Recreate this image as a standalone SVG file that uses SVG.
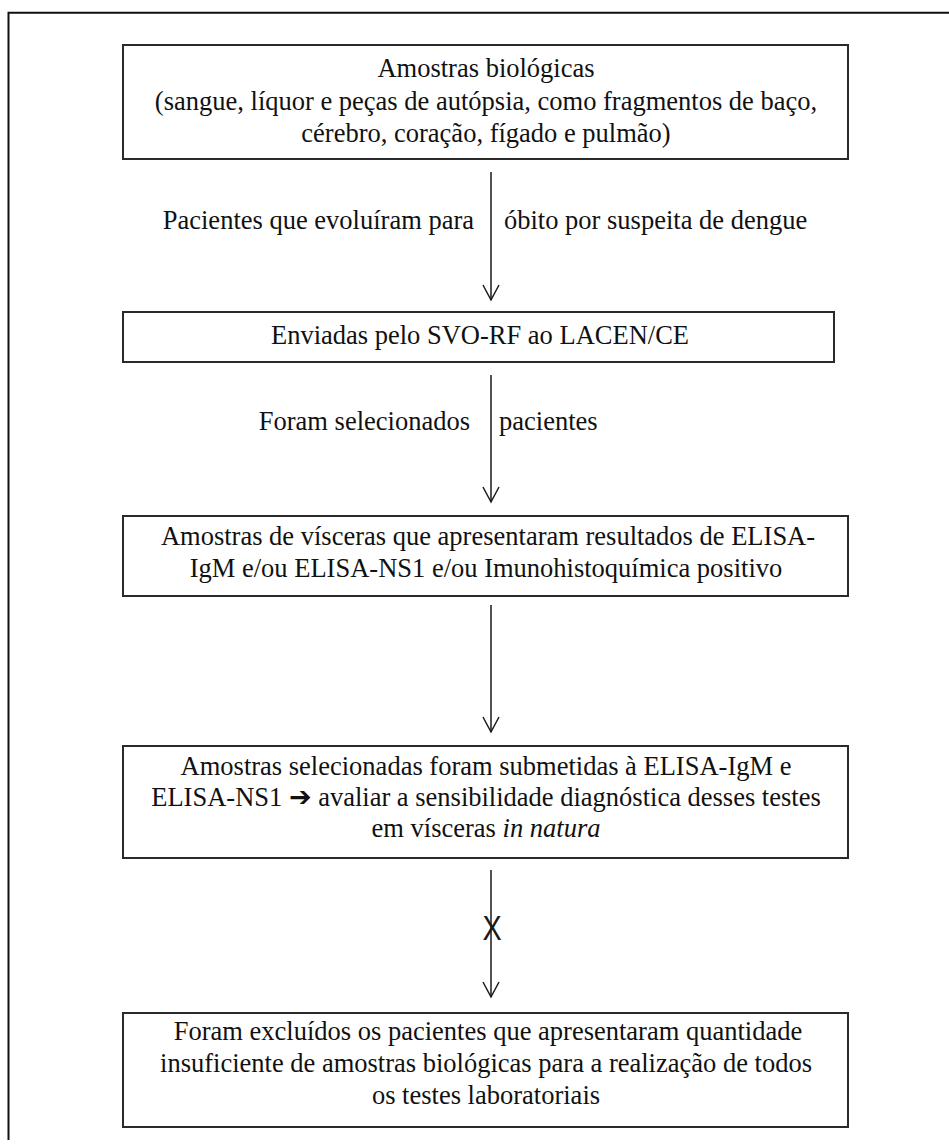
<svg xmlns="http://www.w3.org/2000/svg" width="949" height="1148" viewBox="0 0 949 1148">
<style>
.box{fill:#fff;stroke:#2a2a2a;stroke-width:2}
.t{font-family:"Liberation Serif","Times New Roman",serif;font-size:26.5px;fill:#111;text-anchor:middle}
.l{font-family:"Liberation Serif","Times New Roman",serif;font-size:26.5px;fill:#111}
.ln{stroke:#1a1a1a;stroke-width:1.5;fill:none}
</style>
<defs>
<marker id="arr" viewBox="0 0 20 20" refX="18" refY="10" markerWidth="20" markerHeight="20" markerUnits="userSpaceOnUse" orient="auto">
<path d="M3 2 L18 10 L3 18" fill="none" stroke="#1a1a1a" stroke-width="1.5"/>
</marker>
</defs>
<rect width="949" height="1148" fill="#fff"/>
<path d="M8.5 1140 V12.7 H949" fill="none" stroke="#111" stroke-width="2"/>

<g id="node1">
<rect class="box" x="123" y="45" width="725" height="114"/>
<text class="t" x="486" y="77">Amostras biológicas</text>
<text class="t" x="486" y="110">(sangue, líquor e peças de autópsia, como fragmentos de baço,</text>
<text class="t" x="486" y="142">cérebro, coração, fígado e pulmão)</text>
</g>

<g id="node2">
<rect class="box" x="123" y="312" width="711" height="50"/>
<text class="t" x="480" y="344">Enviadas pelo SVO-RF ao LACEN/CE</text>
</g>

<g id="node3">
<rect class="box" x="123" y="516" width="725" height="80"/>
<text class="t" x="488" y="545">Amostras de vísceras que apresentaram resultados de ELISA-</text>
<text class="t" x="486" y="577">IgM e/ou ELISA-NS1 e/ou Imunohistoquímica positivo</text>
</g>

<g id="node4">
<rect class="box" x="123" y="746" width="725" height="112"/>
<text class="t" x="486" y="775">Amostras selecionadas foram submetidas à ELISA-IgM e</text>
<text class="t" x="486" y="806">ELISA-NS1 <tspan font-family="DejaVu Sans, sans-serif" font-size="27">➔</tspan> avaliar a sensibilidade diagnóstica desses testes</text>
<text class="t" x="486" y="837">em vísceras <tspan font-style="italic">in natura</tspan></text>
</g>

<g id="node5">
<rect class="box" x="123" y="1013" width="725" height="114"/>
<text class="t" x="488" y="1040">Foram excluídos os pacientes que apresentaram quantidade</text>
<text class="t" x="486" y="1072">insuficiente de amostras biológicas para a realização de todos</text>
<text class="t" x="486" y="1104">os testes laboratoriais</text>
</g>

<g id="connectors">
<line class="ln" x1="491" y1="172" x2="491" y2="300" marker-end="url(#arr)"/>
<line class="ln" x1="491" y1="375" x2="491" y2="502" marker-end="url(#arr)"/>
<line class="ln" x1="491" y1="605" x2="491" y2="732" marker-end="url(#arr)"/>
<line class="ln" x1="491" y1="870" x2="491" y2="997" marker-end="url(#arr)"/>
<text class="l" x="474" y="229" text-anchor="end">Pacientes que evoluíram para</text>
<text class="l" x="504" y="229">óbito por suspeita de dengue</text>
<text class="l" x="470" y="430" text-anchor="end">Foram selecionados</text>
<text class="l" x="499" y="430">pacientes</text>
<text x="0" y="0" transform="translate(492 940) scale(0.8 1)" font-family="Liberation Sans, Arial, sans-serif" font-size="36" fill="#1a1a1a" text-anchor="middle">X</text>
</g>
</svg>
